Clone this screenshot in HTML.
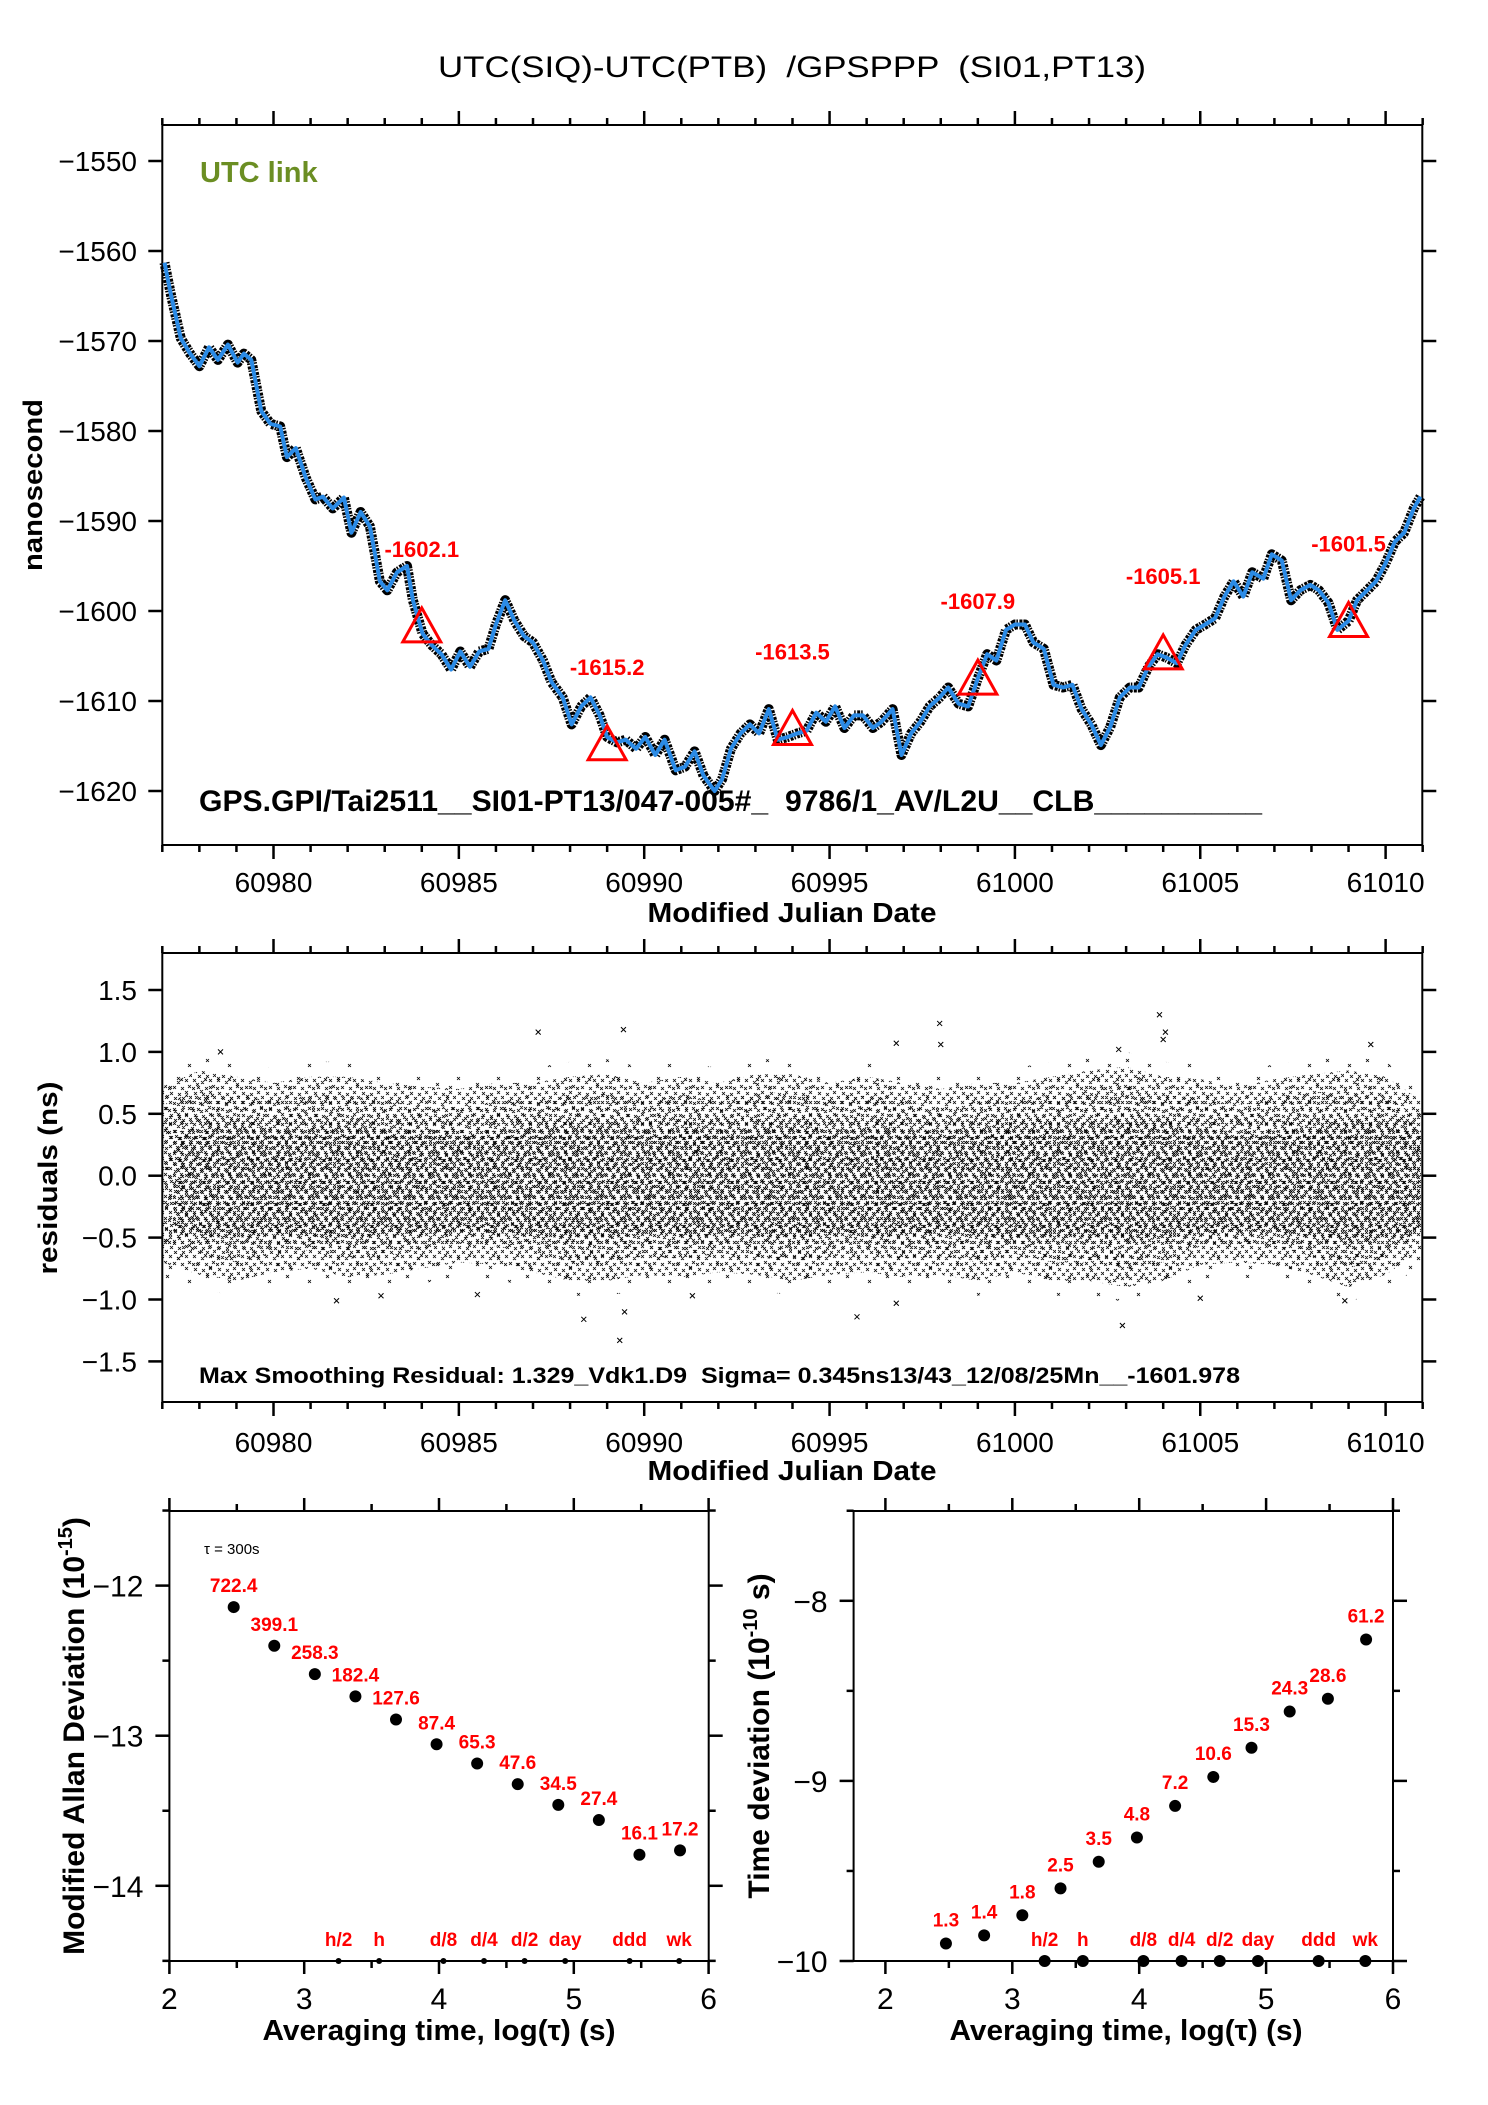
<!DOCTYPE html>
<html><head><meta charset="utf-8">
<style>
html,body{margin:0;padding:0;background:#fff;}
svg{display:block;font-family:"Liberation Sans",Arial,sans-serif;}
</style></head>
<body>
<svg id="fig" xmlns="http://www.w3.org/2000/svg" width="1488" height="2105" viewBox="0 0 1488 2105">
<defs>
<clipPath id="midClip"><rect x="163" y="954" width="1258" height="447"/></clipPath>
<pattern id="pD" width="24" height="22" patternUnits="userSpaceOnUse"><path d="M1 1l3 3m0-3l-3 3 M9 3l3 3m0-3l-3 3 M17 1l3 3m0-3l-3 3 M5 8l3 3m0-3l-3 3 M13 9l3 3m0-3l-3 3 M20 7l3 3m0-3l-3 3 M2 14l3 3m0-3l-3 3 M10 15l3 3m0-3l-3 3 M17 13l3 3m0-3l-3 3 M6 19l3 3m0-3l-3 3 M14 19l3 3m0-3l-3 3 M21 18l3 3m0-3l-3 3 M12 0l3 3m0-3l-3 3 M0 9l3 3m0-3l-3 3" stroke="#000" stroke-width="0.8" fill="none"/></pattern>
<pattern id="pE" width="26" height="20" patternUnits="userSpaceOnUse" x="7" y="5"><path d="M2 2l3 3m0-3l-3 3 M11 5l3 3m0-3l-3 3 M19 1l3 3m0-3l-3 3 M6 11l3 3m0-3l-3 3 M15 12l3 3m0-3l-3 3 M22 9l3 3m0-3l-3 3 M1 16l3 3m0-3l-3 3 M18 16l3 3m0-3l-3 3 M10 17l3 3m0-3l-3 3" stroke="#000" stroke-width="0.8" fill="none"/></pattern>
<pattern id="pF" width="40" height="36" patternUnits="userSpaceOnUse" x="3" y="11"><path d="M3 4l3 3m0-3l-3 3 M25 9l3 3m0-3l-3 3 M14 22l3 3m0-3l-3 3 M33 28l3 3m0-3l-3 3 M6 31l3 3m0-3l-3 3" stroke="#000" stroke-width="0.8" fill="none"/></pattern>
</defs>
<rect x="0" y="0" width="1488" height="2105" fill="#fff"/>
<text x="792" y="77" font-size="30" text-anchor="middle" textLength="708" lengthAdjust="spacingAndGlyphs" style="white-space:pre">UTC(SIQ)-UTC(PTB)  /GPSPPP  (SI01,PT13)</text>
<g id="top"></g>
<g id="mid"></g>
<g id="bl"></g>
<g id="br"></g>
</svg>
<script>
// ---------- top chart data ----------
const mjd = [60977.06,60977.24,60977.5,60977.75,60978.0,60978.26,60978.5,60978.77,60979.03,60979.2,60979.4,60979.67,60979.92,60980.18,60980.36,60980.6,60980.87,60981.13,60981.33,60981.6,60981.9,60982.1,60982.35,60982.6,60982.87,60983.07,60983.33,60983.6,60983.76,60984.02,60984.27,60984.53,60984.79,60985.04,60985.3,60985.55,60985.8,60986.0,60986.25,60986.5,60986.76,60987.0,60987.27,60987.5,60987.8,60988.04,60988.3,60988.55,60988.8,60989.0,60989.27,60989.5,60989.78,60990.03,60990.3,60990.55,60990.85,60991.1,60991.36,60991.6,60991.9,60992.1,60992.34,60992.6,60992.85,60993.1,60993.36,60993.6,60993.87,60994.13,60994.38,60994.64,60994.9,60995.15,60995.4,60995.66,60995.9,60996.17,60996.4,60996.7,60996.94,60997.2,60997.45,60997.7,60997.97,60998.2,60998.48,60998.74,60999.0,60999.25,60999.5,60999.76,61000.0,61000.27,61000.5,61000.78,61001.04,61001.3,61001.55,61001.8,61002.06,61002.32,61002.57,61002.83,61003.1,61003.34,61003.6,61003.85,61004.1,61004.37,61004.6,61004.88,61005.13,61005.4,61005.65,61005.9,61006.16,61006.4,61006.7,61006.93,61007.2,61007.45,61007.7,61007.97,61008.2,61008.46,61008.7,61009.0,61009.23,61009.5,61009.74,61010.0,61010.25,61010.5,61010.76,61010.94];
const nsVal = [-1561.3,-1565,-1569.7,-1571.4,-1572.8,-1570.7,-1572.1,-1570.4,-1572.4,-1571.4,-1572.1,-1577.8,-1579.2,-1579.5,-1582.9,-1581.9,-1585.2,-1587.6,-1587.3,-1588.6,-1587.4,-1591.3,-1589,-1590.6,-1596.7,-1597.7,-1595.7,-1595,-1598.8,-1602.5,-1603.8,-1604.8,-1606.5,-1604.5,-1606.2,-1604.5,-1604.2,-1601.5,-1598.8,-1601.1,-1602.8,-1603.5,-1605.5,-1607.9,-1609.6,-1612.6,-1610.6,-1609.6,-1611.6,-1614,-1614.6,-1614.3,-1615.3,-1614,-1616,-1614.3,-1617.7,-1617.3,-1615.6,-1618.3,-1620,-1618.7,-1615.3,-1613.6,-1612.6,-1613.6,-1610.9,-1614.3,-1614,-1613.6,-1613.3,-1611.3,-1612.3,-1610.6,-1613,-1611.6,-1611.6,-1613,-1612.3,-1610.9,-1616,-1613.6,-1612.3,-1610.6,-1609.6,-1608.5,-1610.3,-1610.6,-1607.5,-1604.8,-1605.5,-1602.1,-1601.5,-1601.5,-1603.5,-1604.2,-1608.2,-1608.5,-1608.2,-1610.9,-1612.6,-1614.9,-1612.9,-1609.6,-1608.5,-1608.5,-1606.2,-1604.8,-1605.2,-1605.8,-1603.8,-1602.1,-1601.5,-1600.8,-1598.4,-1596.7,-1598.4,-1595.7,-1596.4,-1593.7,-1594.4,-1598.8,-1597.7,-1597.1,-1597.7,-1599.1,-1602.1,-1601.1,-1598.8,-1597.7,-1596.7,-1594.7,-1592.3,-1591.3,-1588.6,-1587.3];
const triMjd = [60984,60989,60994,60999,61004,61009];
const triVal = [-1602.1,-1615.2,-1613.5,-1607.9,-1605.1,-1601.5];
const triLabels = ["-1602.1","-1615.2","-1613.5","-1607.9","-1605.1","-1601.5"];
const topYTicks = [-1550,-1560,-1570,-1580,-1590,-1600,-1610,-1620];
const mjdTicks = [60980,60985,60990,60995,61000,61005,61010];
// ---------- residuals data ----------
const bandMjd = [60977,60978,60979,60980,60981,60982,60983,60984,60985,60986,60987,60988,60989,60990,60991,60992,60993,60994,60995,60996,60997,60998,60999,61000,61001,61002,61003,61004,61005,61006,61007,61008,61009,61010,61011];
const bandUp = [0.72,0.85,0.8,0.75,0.8,0.8,0.75,0.72,0.7,0.75,0.75,0.8,0.82,0.75,0.8,0.75,0.82,0.82,0.75,0.8,0.75,0.7,0.75,0.75,0.8,0.85,0.88,0.8,0.78,0.72,0.78,0.82,0.85,0.8,0.6];
const bandLo = [-0.7,-0.8,-0.85,-0.78,-0.75,-0.82,-0.8,-0.75,-0.7,-0.72,-0.78,-0.85,-0.85,-0.8,-0.82,-0.78,-0.8,-0.85,-0.8,-0.78,-0.82,-0.8,-0.85,-0.78,-0.85,-0.85,-0.9,-0.85,-0.72,-0.7,-0.72,-0.8,-0.9,-0.8,-0.6];
const coreHalf = [0.4,0.45,0.45,0.42,0.45,0.45,0.42,0.42,0.4,0.42,0.45,0.45,0.45,0.42,0.45,0.42,0.45,0.45,0.42,0.45,0.42,0.42,0.45,0.45,0.45,0.45,0.48,0.45,0.42,0.4,0.42,0.45,0.48,0.45,0.4];
const outMjd = [60978.57,60987.14,60989.44,60997.97,60996.8,61003.9,61004.06,61009.6,61002.8,60989.34,60988.37,60995.74,61002.9,60981.7,61008.9,60996.8,60989.47,60982.9,60985.5,60991.3,61005.0,60998.0,61004.0];
const outVal = [1.0,1.16,1.18,1.23,1.07,1.30,1.16,1.06,1.02,-1.33,-1.16,-1.14,-1.21,-1.01,-1.01,-1.03,-1.1,-0.97,-0.96,-0.97,-0.99,1.06,1.1];
const midYTicks = [1.5,1.0,0.5,0.0,-0.5,-1.0,-1.5];
// ---------- MDEV / TDEV data ----------
const logTau = [2.477,2.778,3.079,3.380,3.681,3.982,4.283,4.584,4.885,5.186,5.487,5.788];
const mdev = [-12.143,-12.401,-12.59,-12.738,-12.892,-13.057,-13.185,-13.323,-13.461,-13.562,-13.793,-13.764];
const mdevLabels = ["722.4","399.1","258.3","182.4","127.6","87.4","65.3","47.6","34.5","27.4","16.1","17.2"];
const tdev = [-9.903,-9.858,-9.746,-9.597,-9.449,-9.314,-9.139,-8.978,-8.816,-8.615,-8.544,-8.215];
const tdevLabels = ["1.3","1.4","1.8","2.5","3.5","4.8","7.2","10.6","15.3","24.3","28.6","61.2"];
const markLog = [3.255,3.556,4.033,4.334,4.635,4.936,5.414,5.782];
const markLabels = ["h/2","h","d/8","d/4","d/2","day","ddd","wk"];
const logTicks = [2,3,4,5,6];
const mdevTicks = [-12,-13,-14];
const tdevTicks = [-8,-9,-10];

const NS='http://www.w3.org/2000/svg';
function mk(tag, attrs, parent){const e=document.createElementNS(NS,tag);for(const k in attrs)e.setAttribute(k,attrs[k]);parent.appendChild(e);return e;}

const xT = m => 162.3 + (m-60977)*37.07;
const yT = v => 125 + (-1546 - v)*9.0;
const yM = v => 1175.7 - v*123.8;
const xL = l => 169.4 + (l-2)*134.8;
const yL = v => 1585.6 - (v+12)*150.1;
const xR = l => 885.4 + (l-2)*126.9;
const yR = v => 1600.8 - (v+8)*180.1;

function frame(g, x0,y0,x1,y1){
  const r = mk('rect',{x:x0,y:y0,width:x1-x0,height:y1-y0,fill:'none',stroke:'#000','stroke-width':2},g);
  
  
}
function tick(g,x1,y1,x2,y2,name){
  const t = mk('line',{x1:x1,y1:y1,x2:x2,y2:y2,stroke:'#000','stroke-width':2.5},g);
  
  
}
function label(g,x,y,txt,size,anchor,name,extra){
  const t = mk('text',Object.assign({x:x,y:y,'font-size':size,'text-anchor':anchor},extra||{}),g);
  t.textContent = txt;
  
  
  return t;
}

// ===== TOP =====
(function(){
  const g = document.getElementById('top');
  const X0=162.3,X1=1422.3,Y0=125,Y1=845;
  frame(g,X0,Y0,X1,Y1);
  for(let m=60977;m<=61011;m++){
    const L = (m%5===0)?14:7;
    tick(g,xT(m),Y0,xT(m),Y0-L,'x-tick-top');
    tick(g,xT(m),Y1,xT(m),Y1+L,'x-tick-bottom');
  }
  mjdTicks.forEach(m=>{ label(g,xT(m),892,String(m),28,'middle','x-tick-label'); });
  topYTicks.forEach(v=>{
    tick(g,X0,yT(v),X0-14,yT(v),'y-tick-left');
    tick(g,X1,yT(v),X1+14,yT(v),'y-tick-right');
    label(g,137,yT(v)+10,'\u2212'+String(-v),28,'end','y-tick-label');
  });
  label(g,792,922,'Modified Julian Date',28,'middle','x-axis-title',{'font-weight':'bold',textLength:289,lengthAdjust:'spacingAndGlyphs'});
  label(g,0,0,'nanosecond',27,'middle','y-axis-title',{'font-weight':'bold',transform:'translate(42,485) rotate(-90)',textLength:172,lengthAdjust:'spacingAndGlyphs'});
  label(g,200,182,'UTC link',29,'start','utc-link-label',{'font-weight':'bold',fill:'#6b8e23'});
  label(g,199,811,'GPS.GPI/Tai2511__SI01-PT13/047-005#_  9786/1_AV/L2U__CLB__________',30,'start','link-info-text',{'font-weight':'bold',textLength:1063,lengthAdjust:'spacingAndGlyphs',style:'white-space:pre'});
  let d='';
  mjd.forEach((m,i)=>{ d += (i?'L':'M')+xT(m).toFixed(1)+' '+yT(nsVal[i]).toFixed(1); });
  const noise = mk('path',{d:d,fill:'none',stroke:'#000','stroke-width':10,'stroke-linejoin':'round','stroke-dasharray':'1.5 1.5 3 1'},g);
  
  
  const line = mk('path',{d:d,fill:'none',stroke:'#2b8be6','stroke-width':4,'stroke-linejoin':'round'},g);
  
  
  triMjd.forEach((m,i)=>{
    const cx=xT(m), cy=yT(triVal[i]);
    const tr = mk('polygon',{points:`${cx},${cy-22} ${cx-19},${cy+12} ${cx+19},${cy+12}`,fill:'none',stroke:'#ff0000','stroke-width':3},g);
    
    
    label(g,cx,yT(triVal[i]+9)+8,triLabels[i],22,'middle','marker-value-label',{'font-weight':'bold',fill:'#ff0000'});
  });
})();

// ===== MIDDLE =====
(function(){
  const g = document.getElementById('mid');
  const X0=162.3,X1=1422.3,Y0=953,Y1=1402;
  const cg = mk('g',{'clip-path':'url(#midClip)'},g);
  
  
  function bandPath(upArr, loArr, pad){
    let s='', t='';
    bandMjd.forEach((m,i)=>{ s += (i?'L':'M')+xT(m).toFixed(1)+' '+yM(upArr[i]+pad).toFixed(1); });
    for(let i=bandMjd.length-1;i>=0;i--){ t += 'L'+xT(bandMjd[i]).toFixed(1)+' '+yM(loArr[i]-pad).toFixed(1); }
    return s+t+'Z';
  }
  const negCore = coreHalf.map(v=>-v);
  const fringe = mk('path',{d:bandPath(bandUp,bandLo,0.12),fill:'url(#pF)'},cg);
  
  
  const outer = mk('path',{d:bandPath(bandUp,bandLo,0),fill:'url(#pD)'},cg);
  
  
  const mid2 = mk('path',{d:bandPath(bandUp,bandLo,-0.15),fill:'url(#pE)'},cg);
  
  
  const core = mk('path',{d:bandPath(coreHalf,negCore,0),fill:'url(#pD)',transform:'translate(11,6)'},cg);
  
  
  outMjd.forEach((m,i)=>{
    const x=xT(m), y=yM(outVal[i]);
    const p = mk('path',{d:`M${x-2.5} ${y-2.5}L${x+2.5} ${y+2.5}M${x+2.5} ${y-2.5}L${x-2.5} ${y+2.5}`,stroke:'#000','stroke-width':1},cg);
    
    
  });
  frame(g,X0,Y0,X1,Y1);
  for(let m=60977;m<=61011;m++){
    const L=(m%5===0)?14:7;
    tick(g,xT(m),Y0,xT(m),Y0-L,'x-tick-top');
    tick(g,xT(m),Y1,xT(m),Y1+L,'x-tick-bottom');
  }
  mjdTicks.forEach(m=>{ label(g,xT(m),1452,String(m),28,'middle','x-tick-label'); });
  midYTicks.forEach(v=>{
    tick(g,X0,yM(v),X0-14,yM(v),'y-tick-left');
    tick(g,X1,yM(v),X1+14,yM(v),'y-tick-right');
    label(g,137,yM(v)+10,(v<0?'\u2212':'')+Math.abs(v).toFixed(1),28,'end','y-tick-label');
  });
  label(g,792,1480,'Modified Julian Date',28,'middle','x-axis-title',{'font-weight':'bold',textLength:289,lengthAdjust:'spacingAndGlyphs'});
  label(g,0,0,'residuals (ns)',27,'middle','y-axis-title',{'font-weight':'bold',transform:'translate(57,1178) rotate(-90)',textLength:193,lengthAdjust:'spacingAndGlyphs'});
  label(g,199,1383,'Max Smoothing Residual: 1.329_Vdk1.D9  Sigma= 0.345ns13/43_12/08/25Mn__-1601.978',22,'start','residual-stats-text',{'font-weight':'bold',textLength:1041,lengthAdjust:'spacingAndGlyphs',style:'white-space:pre'});
})();

// ===== bottom panels =====
function stabPanel(g, xs, ys, X0, X1, Y0, Y1, yTicks, yMinor, vals, vlabels, labOff, clipBottom){
  frame(g,X0,Y0,X1,Y1);
  logTicks.forEach(l=>{
    tick(g,xs(l),Y0,xs(l),Y0-13,'x-tick-top');
    tick(g,xs(l),Y1,xs(l),Y1+13,'x-tick-bottom');
    label(g,xs(l),2009,String(l),30,'middle','x-tick-label');
  });
  [2.5,3.5,4.5,5.5].forEach(l=>{
    tick(g,xs(l),Y0,xs(l),Y0-7,'x-minor-tick-top');
    tick(g,xs(l),Y1,xs(l),Y1+7,'x-minor-tick-bottom');
  });
  yTicks.forEach(v=>{
    tick(g,X0,ys(v),X0-14,ys(v),'y-tick-left');
    tick(g,X1,ys(v),X1+14,ys(v),'y-tick-right');
    label(g,X0-26,ys(v)+11,'\u2212'+String(-v),30,'end','y-tick-label');
  });
  yMinor.forEach(v=>{
    tick(g,X0,ys(v),X0-7,ys(v),'y-minor-tick-left');
    tick(g,X1,ys(v),X1+7,ys(v),'y-minor-tick-right');
  });
  logTau.forEach((l,i)=>{
    const c = mk('circle',{cx:xs(l),cy:ys(vals[i]),r:6},g);
    
    
    label(g,xs(l),ys(vals[i])-labOff,vlabels[i],19,'middle','point-value-label',{'font-weight':'bold',fill:'#ff0000'});
  });
  markLog.forEach((l,i)=>{
    const c = mk('circle',{cx:xs(l),cy:Y1,r:clipBottom?3:6},g);
    
    
    label(g,xs(l),Y1-15,markLabels[i],19,'middle','timescale-label',{'font-weight':'bold',fill:'#ff0000'});
  });
}
(function(){
  const g=document.getElementById('bl');
  stabPanel(g,xL,yL,169.4,708.7,1511,1961,mdevTicks,[-11.5,-12.5,-13.5,-14.5],mdev,mdevLabels,15,true);
  label(g,204,1554,'\u03c4 = 300s',15,'start','tau-note');
  const t = label(g,0,0,'',30,'middle','y-axis-title',{'font-weight':'bold',transform:'translate(84,1736) rotate(-90)'});
  t.innerHTML = 'Modified Allan Deviation (10<tspan font-size="20" dy="-12">-15</tspan><tspan dy="12">)</tspan>';
  label(g,439,2040,'Averaging time, log(\u03c4) (s)',29,'middle','x-axis-title',{'font-weight':'bold',textLength:353,lengthAdjust:'spacingAndGlyphs'});
})();
(function(){
  const g=document.getElementById('br');
  stabPanel(g,xR,yR,853.6,1393,1511,1961,tdevTicks,[-7.5,-8.5,-9.5],tdev,tdevLabels,17,false);
  const t = label(g,0,0,'',30,'middle','y-axis-title',{'font-weight':'bold',transform:'translate(769,1736) rotate(-90)'});
  t.innerHTML = 'Time deviation (10<tspan font-size="20" dy="-12">-10</tspan><tspan dy="12"> s)</tspan>';
  label(g,1126,2040,'Averaging time, log(\u03c4) (s)',29,'middle','x-axis-title',{'font-weight':'bold',textLength:353,lengthAdjust:'spacingAndGlyphs'});
})();
</script>
</body></html>
